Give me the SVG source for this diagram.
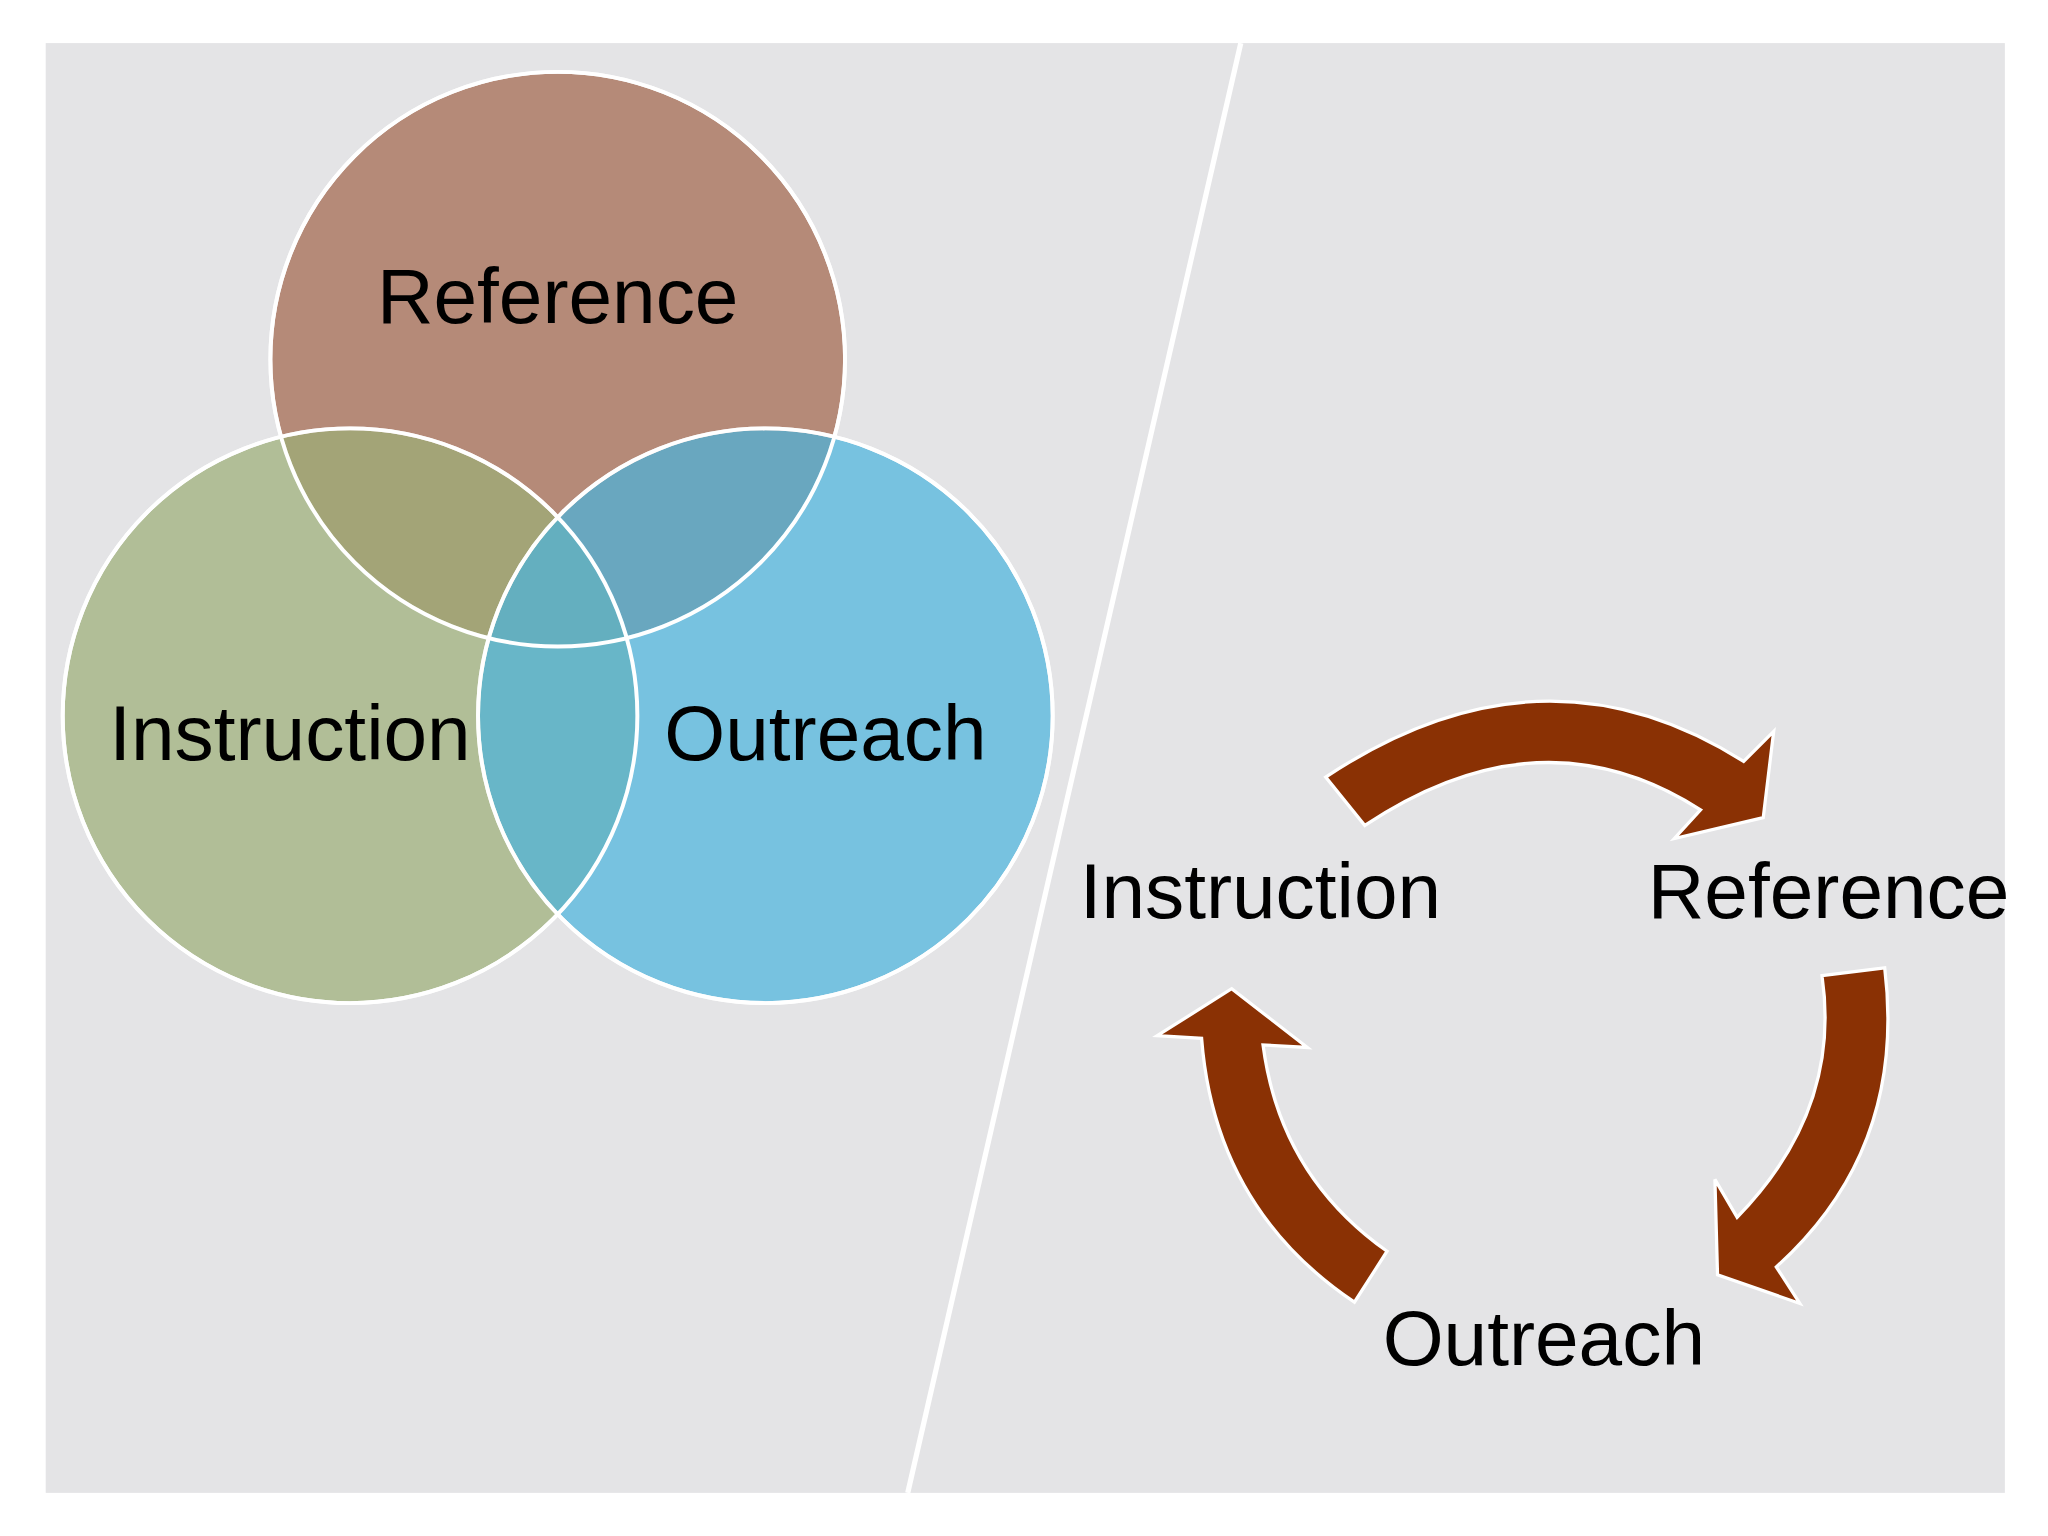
<svg xmlns="http://www.w3.org/2000/svg" width="2048" height="1536" viewBox="0 0 2048 1536">
<style>
.lbl{font-family:"Liberation Sans",Arial,sans-serif;font-size:60px;fill:#000;text-anchor:middle}
.c{stroke:#fff;stroke-width:3;opacity:0.7}
.arr{fill:#8a3104;stroke:#fff;stroke-width:2.5}
</style>
<rect width="2048" height="1536" fill="#fff"/>
<g transform="scale(1.3061)">
<rect x="35" y="33" width="1500" height="1110" fill="#e4e4e6"/>
<line x1="950" y1="33" x2="695" y2="1143" stroke="#fff" stroke-width="4"/>
<g id="venn-reference"><circle class="c" cx="427" cy="275" r="220" fill="#a2654a"/></g>
<g id="venn-instruction"><circle class="c" cx="268" cy="548" r="220" fill="#9caf77"/></g>
<g id="venn-outreach"><circle class="c" cx="586" cy="548" r="220" fill="#4ab4de"/></g>
<circle cx="427" cy="275" r="220" fill="none" stroke="#fff" stroke-width="3"/>
<circle cx="268" cy="548" r="220" fill="none" stroke="#fff" stroke-width="3"/>
<circle cx="586" cy="548" r="220" fill="none" stroke="#fff" stroke-width="3"/>
<text class="lbl" x="427" y="247">Reference</text>
<text class="lbl" x="222" y="582">Instruction</text>
<text class="lbl" x="632" y="582">Outreach</text>
<g id="cycle-instruction"><text class="lbl" x="965" y="703">Instruction</text></g>
<g id="cycle-reference"><text class="lbl" x="1400" y="703">Reference</text></g>
<g id="cycle-outreach"><text class="lbl" x="1182" y="1045">Outreach</text></g>
<g id="connectors">
<path class="arr" d="M1015,595 Q1180,485 1335,583 L1358,560 L1350,626 L1282,642 L1302,620 Q1180,542 1045,632 Z"/>
<path class="arr" d="M1395,747 L1443,741 Q1460,880 1360,970 L1378,998 L1315,976 L1313,903 L1330,932 Q1410,850 1395,747 Z"/>
<path class="arr" d="M1037,997 Q930,925 920,795 L886,793 L943,757 L1001,802 L967,800 Q980,900 1062,958 Z"/>
</g>
</g>
</svg>
